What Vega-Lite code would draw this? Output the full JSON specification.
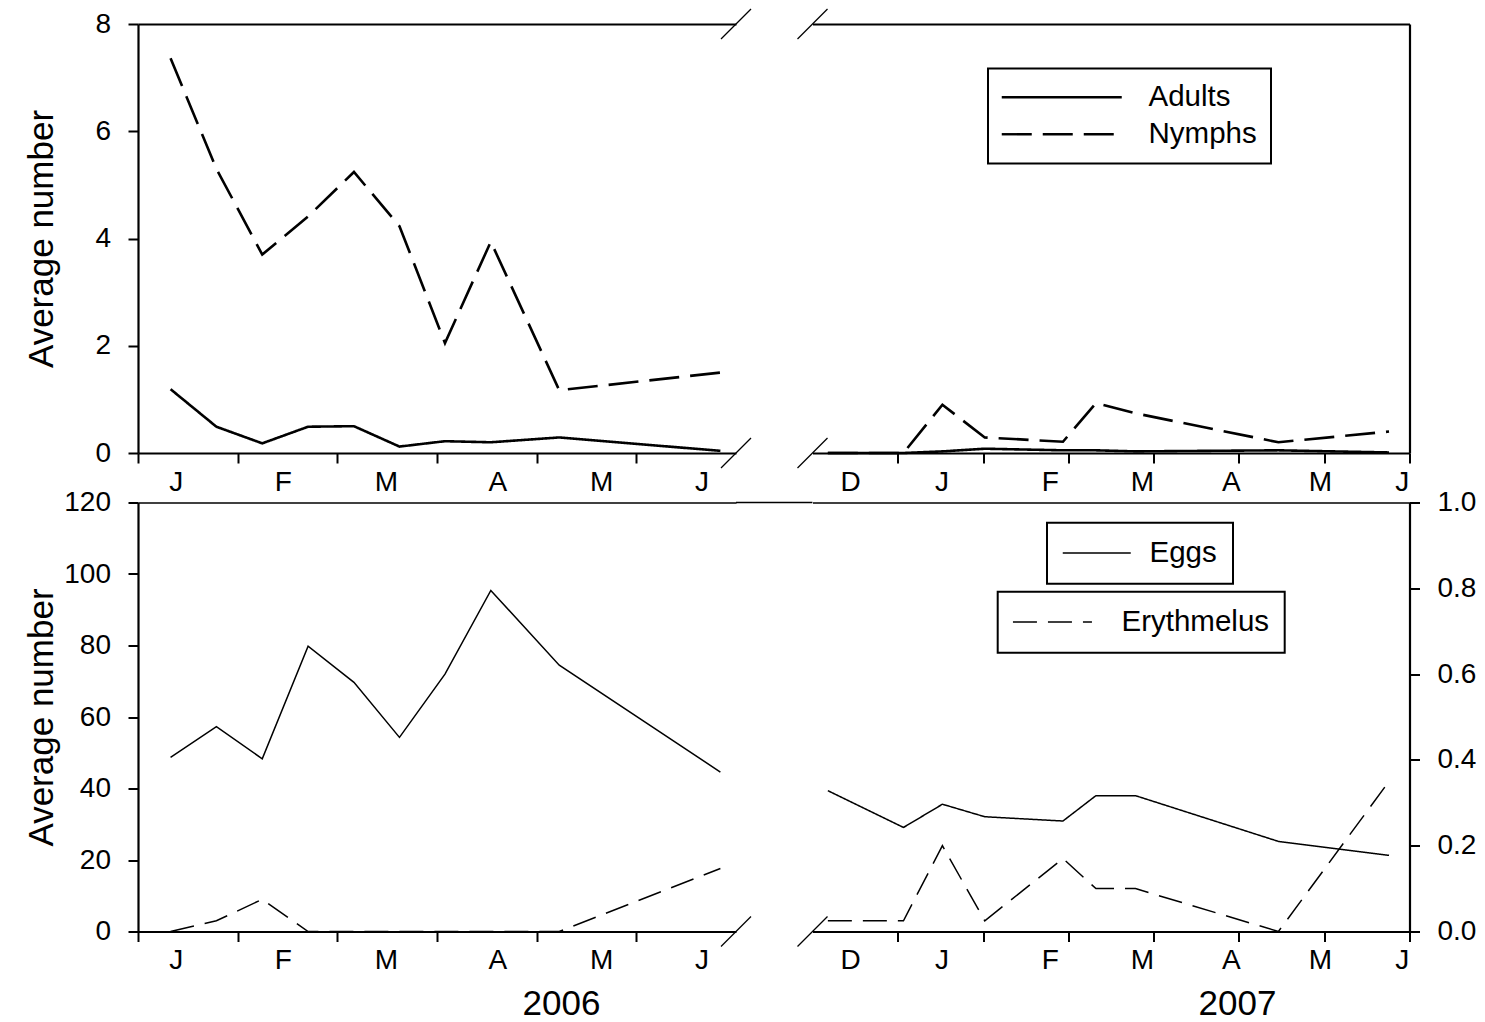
{
  "$schema": "https://vega.github.io/schema/vega-lite/v6.json",
  "padding": {"left": 24, "top": 6, "right": 5, "bottom": 0},
  "datasets": {
    "counts": [
      {"period": "2006", "stage": "Adults", "day": 9.8, "value": 1.19},
      {"period": "2006", "stage": "Adults", "day": 23.6, "value": 0.49},
      {"period": "2006", "stage": "Adults", "day": 37.4, "value": 0.18},
      {"period": "2006", "stage": "Adults", "day": 51.2, "value": 0.49},
      {"period": "2006", "stage": "Adults", "day": 65.0, "value": 0.50},
      {"period": "2006", "stage": "Adults", "day": 78.7, "value": 0.12},
      {"period": "2006", "stage": "Adults", "day": 92.4, "value": 0.22},
      {"period": "2006", "stage": "Adults", "day": 106.2, "value": 0.20},
      {"period": "2006", "stage": "Adults", "day": 126.8, "value": 0.29},
      {"period": "2006", "stage": "Adults", "day": 175.3, "value": 0.04},
      {"period": "2006", "stage": "Nymphs", "day": 9.8, "value": 7.36},
      {"period": "2006", "stage": "Nymphs", "day": 23.6, "value": 5.30},
      {"period": "2006", "stage": "Nymphs", "day": 37.4, "value": 3.70},
      {"period": "2006", "stage": "Nymphs", "day": 51.2, "value": 4.41},
      {"period": "2006", "stage": "Nymphs", "day": 65.0, "value": 5.24},
      {"period": "2006", "stage": "Nymphs", "day": 78.7, "value": 4.23},
      {"period": "2006", "stage": "Nymphs", "day": 92.4, "value": 2.05},
      {"period": "2006", "stage": "Nymphs", "day": 106.2, "value": 3.94},
      {"period": "2006", "stage": "Nymphs", "day": 126.8, "value": 1.17},
      {"period": "2006", "stage": "Nymphs", "day": 175.3, "value": 1.50},
      {"period": "2006", "stage": "Eggs", "day": 9.8, "value": 48.7},
      {"period": "2006", "stage": "Eggs", "day": 23.6, "value": 57.3},
      {"period": "2006", "stage": "Eggs", "day": 37.4, "value": 48.3},
      {"period": "2006", "stage": "Eggs", "day": 51.2, "value": 79.8},
      {"period": "2006", "stage": "Eggs", "day": 65.0, "value": 69.7},
      {"period": "2006", "stage": "Eggs", "day": 78.7, "value": 54.3},
      {"period": "2006", "stage": "Eggs", "day": 92.4, "value": 72.0},
      {"period": "2006", "stage": "Eggs", "day": 106.2, "value": 95.4},
      {"period": "2006", "stage": "Eggs", "day": 126.8, "value": 74.5},
      {"period": "2006", "stage": "Eggs", "day": 175.3, "value": 44.6},
      {"period": "2006", "stage": "Erythmelus", "day": 9.8, "value": 0},
      {"period": "2006", "stage": "Erythmelus", "day": 23.6, "value": 0.025},
      {"period": "2006", "stage": "Erythmelus", "day": 37.4, "value": 0.075},
      {"period": "2006", "stage": "Erythmelus", "day": 51.2, "value": 0},
      {"period": "2006", "stage": "Erythmelus", "day": 65.0, "value": 0},
      {"period": "2006", "stage": "Erythmelus", "day": 78.7, "value": 0},
      {"period": "2006", "stage": "Erythmelus", "day": 92.4, "value": 0},
      {"period": "2006", "stage": "Erythmelus", "day": 106.2, "value": 0},
      {"period": "2006", "stage": "Erythmelus", "day": 126.8, "value": 0},
      {"period": "2006", "stage": "Erythmelus", "day": 175.3, "value": 0.147},
      {"period": "2007", "stage": "Adults", "day": 5.4, "value": 0},
      {"period": "2007", "stage": "Adults", "day": 32.0, "value": 0},
      {"period": "2007", "stage": "Adults", "day": 45.7, "value": 0.03},
      {"period": "2007", "stage": "Adults", "day": 60.6, "value": 0.08},
      {"period": "2007", "stage": "Adults", "day": 88.1, "value": 0.05},
      {"period": "2007", "stage": "Adults", "day": 99.7, "value": 0.05},
      {"period": "2007", "stage": "Adults", "day": 113.6, "value": 0.03},
      {"period": "2007", "stage": "Adults", "day": 163.9, "value": 0.05},
      {"period": "2007", "stage": "Adults", "day": 202.8, "value": 0.01},
      {"period": "2007", "stage": "Nymphs", "day": 5.4, "value": 0},
      {"period": "2007", "stage": "Nymphs", "day": 32.0, "value": 0},
      {"period": "2007", "stage": "Nymphs", "day": 45.7, "value": 0.90},
      {"period": "2007", "stage": "Nymphs", "day": 60.6, "value": 0.29},
      {"period": "2007", "stage": "Nymphs", "day": 88.1, "value": 0.21},
      {"period": "2007", "stage": "Nymphs", "day": 99.7, "value": 0.93},
      {"period": "2007", "stage": "Nymphs", "day": 113.6, "value": 0.74},
      {"period": "2007", "stage": "Nymphs", "day": 163.9, "value": 0.20},
      {"period": "2007", "stage": "Nymphs", "day": 202.8, "value": 0.40},
      {"period": "2007", "stage": "Eggs", "day": 5.4, "value": 39.4},
      {"period": "2007", "stage": "Eggs", "day": 32.0, "value": 29.1},
      {"period": "2007", "stage": "Eggs", "day": 45.7, "value": 35.6},
      {"period": "2007", "stage": "Eggs", "day": 60.6, "value": 32.1},
      {"period": "2007", "stage": "Eggs", "day": 88.1, "value": 30.9},
      {"period": "2007", "stage": "Eggs", "day": 99.7, "value": 38.0},
      {"period": "2007", "stage": "Eggs", "day": 113.6, "value": 38.0},
      {"period": "2007", "stage": "Eggs", "day": 163.9, "value": 25.2},
      {"period": "2007", "stage": "Eggs", "day": 202.8, "value": 21.3},
      {"period": "2007", "stage": "Erythmelus", "day": 5.4, "value": 0.025},
      {"period": "2007", "stage": "Erythmelus", "day": 32.0, "value": 0.025},
      {"period": "2007", "stage": "Erythmelus", "day": 45.7, "value": 0.2},
      {"period": "2007", "stage": "Erythmelus", "day": 60.6, "value": 0.025},
      {"period": "2007", "stage": "Erythmelus", "day": 88.1, "value": 0.17},
      {"period": "2007", "stage": "Erythmelus", "day": 99.7, "value": 0.1},
      {"period": "2007", "stage": "Erythmelus", "day": 113.6, "value": 0.1},
      {"period": "2007", "stage": "Erythmelus", "day": 163.9, "value": 0},
      {"period": "2007", "stage": "Erythmelus", "day": 202.8, "value": 0.35}
    ]
  },
  "columns": 2,
  "spacing": {"row": 49.5, "column": 76.5},
  "bounds": "flush",
  "concat": [
    {
      "width": 598,
      "height": 429,
      "layer": [
        {
          "data": {"name": "counts"},
          "transform": [{"filter": "datum.period === '2006' && (datum.stage === 'Adults' || datum.stage === 'Nymphs')"}],
          "mark": {"type": "line", "color": "black", "strokeWidth": 2.6},
          "encoding": {
            "x": {"field": "day", "type": "quantitative", "scale": {"domain": [0, 180]},
                  "axis": {"orient": "bottom", "values": [0, 30, 60, 90, 120, 150], "labels": false, "title": null, "tickSize": 10}},
            "y": {"field": "value", "type": "quantitative", "scale": {"domain": [0, 8]},
                  "axis": {"orient": "left", "values": [0, 2, 4, 6, 8], "title": "Average number", "titleX": -86, "titleY": 214.5, "titleBaseline": "alphabetic"}},
            "strokeDash": {"field": "stage", "type": "nominal", "scale": {"domain": ["Adults", "Nymphs"], "range": [[1, 0], [30, 11]]}, "legend": null}
          }
        },
        {
          "data": {"values": [{}]},
          "mark": {"type": "point", "shape": "M -1 1 L 1 -1", "size": 900, "filled": false, "color": "black", "strokeWidth": 1.3, "opacity": 1},
          "encoding": {
            "x": {"datum": 180, "type": "quantitative", "scale": {"domain": [0, 180]},
                  "axis": {"orient": "top", "ticks": false, "labels": false, "domain": true, "title": null}},
            "y": {"datum": 8, "type": "quantitative", "scale": {"domain": [0, 8]}, "axis": null}
          }
        },
        {
          "data": {"values": [{}]},
          "mark": {"type": "point", "shape": "M -1 1 L 1 -1", "size": 900, "filled": false, "color": "black", "strokeWidth": 1.3, "opacity": 1},
          "encoding": {
            "x": {"datum": 180, "type": "quantitative", "scale": {"domain": [0, 180]},
                  "axis": {"orient": "bottom", "values": [11.4, 43.6, 74.6, 108.2, 139.4, 169.6],
                           "labelExpr": "datum.value < 30 ? 'J' : datum.value < 60 ? 'F' : datum.value < 90 ? 'M' : datum.value < 120 ? 'A' : datum.value < 150 ? 'M' : 'J'",
                           "ticks": false, "tickSize": 0, "domain": false, "labelPadding": 15, "title": null}},
            "y": {"datum": 0, "type": "quantitative", "scale": {"domain": [0, 8]}, "axis": null}
          }
        }
      ],
      "resolve": {"axis": {"x": "independent", "y": "independent"}}
    },
    {
      "width": 597,
      "height": 429,
      "layer": [
        {
          "data": {"name": "counts"},
          "transform": [{"filter": "datum.period === '2007' && (datum.stage === 'Adults' || datum.stage === 'Nymphs')"}],
          "mark": {"type": "line", "color": "black", "strokeWidth": 2.6},
          "encoding": {
            "x": {"field": "day", "type": "quantitative", "scale": {"domain": [0, 210]},
                  "axis": {"orient": "bottom", "values": [30, 60, 90, 120, 150, 180, 210], "labels": false, "title": null, "tickSize": 10}},
            "y": {"field": "value", "type": "quantitative", "scale": {"domain": [0, 8]}, "axis": null},
            "strokeDash": {"field": "stage", "type": "nominal", "scale": {"domain": ["Adults", "Nymphs"], "range": [[1, 0], [30, 11]]},
                           "legend": {"orient": "none", "legendX": 175.5, "legendY": 44.5, "title": null,
                                      "symbolType": "M -6 0 L 6 0", "symbolSize": 400, "symbolOffset": 45, "labelOffset": 72,
                                      "symbolStrokeWidth": 2.4, "padding": 14, "rowPadding": 6}}
          }
        },
        {
          "data": {"values": [{}]},
          "mark": {"type": "point", "shape": "M -1 1 L 1 -1", "size": 900, "filled": false, "color": "black", "strokeWidth": 1.3, "opacity": 1},
          "encoding": {
            "x": {"datum": 0, "type": "quantitative", "scale": {"domain": [0, 210]},
                  "axis": {"orient": "top", "ticks": false, "labels": false, "domain": true, "title": null}},
            "y": {"datum": 8, "type": "quantitative", "scale": {"domain": [0, 8]},
                  "axis": {"orient": "right", "ticks": false, "labels": false, "domain": true, "title": null}}
          }
        },
        {
          "data": {"values": [{}]},
          "mark": {"type": "point", "shape": "M -1 1 L 1 -1", "size": 900, "filled": false, "color": "black", "strokeWidth": 1.3, "opacity": 1},
          "encoding": {
            "x": {"datum": 0, "type": "quantitative", "scale": {"domain": [0, 210]},
                  "axis": {"orient": "bottom", "values": [13.2, 45.4, 83.5, 115.9, 147.2, 178.5, 207.3],
                           "labelExpr": "datum.value < 30 ? 'D' : datum.value < 60 ? 'J' : datum.value < 100 ? 'F' : datum.value < 130 ? 'M' : datum.value < 160 ? 'A' : datum.value < 190 ? 'M' : 'J'",
                           "ticks": false, "tickSize": 0, "domain": false, "labelPadding": 15, "title": null}},
            "y": {"datum": 0, "type": "quantitative", "scale": {"domain": [0, 8]}, "axis": null}
          }
        }
      ],
      "resolve": {"axis": {"x": "independent", "y": "independent"}}
    },
    {
      "width": 598,
      "height": 429,
      "layer": [
        {
          "data": {"name": "counts"},
          "transform": [{"filter": "datum.period === '2006' && datum.stage === 'Eggs'"}],
          "mark": {"type": "line", "color": "black", "strokeWidth": 1.5},
          "encoding": {
            "x": {"field": "day", "type": "quantitative", "scale": {"domain": [0, 180]},
                  "axis": {"orient": "bottom", "values": [0, 30, 60, 90, 120, 150], "labels": false, "title": null, "tickSize": 10}},
            "y": {"field": "value", "type": "quantitative", "scale": {"domain": [0, 120]},
                  "axis": {"orient": "left", "values": [0, 20, 40, 60, 80, 100, 120], "title": "Average number", "titleX": -86, "titleY": 214.5, "titleBaseline": "alphabetic"}}
          }
        },
        {
          "data": {"name": "counts"},
          "transform": [{"filter": "datum.period === '2006' && datum.stage === 'Erythmelus'"}],
          "mark": {"type": "line", "color": "black", "strokeWidth": 1.5, "strokeDash": [24, 11]},
          "encoding": {
            "x": {"field": "day", "type": "quantitative", "scale": {"domain": [0, 180]}, "axis": null},
            "y": {"field": "value", "type": "quantitative", "scale": {"domain": [0, 1]}, "axis": null}
          }
        },
        {
          "data": {"values": [{}]},
          "mark": {"type": "point", "shape": "M -1 1 L 1 -1", "size": 900, "filled": false, "color": "black", "strokeWidth": 1.3, "opacity": 1},
          "encoding": {
            "x": {"datum": 180, "type": "quantitative", "scale": {"domain": [0, 180]},
                  "axis": {"orient": "bottom", "values": [11.4, 43.6, 74.6, 108.2, 139.4, 169.6],
                           "labelExpr": "datum.value < 30 ? 'J' : datum.value < 60 ? 'F' : datum.value < 90 ? 'M' : datum.value < 120 ? 'A' : datum.value < 150 ? 'M' : 'J'",
                           "ticks": false, "tickSize": 0, "domain": false, "labelPadding": 15,
                           "title": "2006", "titleX": 423, "titleY": 82.5, "titleBaseline": "alphabetic", "titleAngle": 0, "titleAlign": "center"}},
            "y": {"datum": 0, "type": "quantitative", "scale": {"domain": [0, 120]}, "axis": null}
          }
        },
        {
          "data": {"values": [{}]},
          "mark": {"type": "rule", "color": "black", "strokeWidth": 1.6},
          "encoding": {
            "x": {"datum": 180, "type": "quantitative", "scale": {"domain": [0, 180]},
                  "axis": {"orient": "top", "ticks": false, "labels": false, "domain": true, "domainWidth": 1.6, "title": null}},
            "x2": {"datum": 203},
            "y": {"datum": 120, "type": "quantitative", "scale": {"domain": [0, 120]}, "axis": null}
          }
        }
      ],
      "resolve": {"scale": {"y": "independent"}, "axis": {"x": "independent", "y": "independent"}}
    },
    {
      "width": 597,
      "height": 429,
      "layer": [
        {
          "data": {"name": "counts"},
          "transform": [{"filter": "datum.period === '2007' && datum.stage === 'Eggs'"}],
          "mark": {"type": "line", "color": "black", "strokeWidth": 1.5},
          "encoding": {
            "x": {"field": "day", "type": "quantitative", "scale": {"domain": [0, 210]},
                  "axis": {"orient": "bottom", "values": [30, 60, 90, 120, 150, 180, 210], "labels": false, "title": null, "tickSize": 10}},
            "y": {"field": "value", "type": "quantitative", "scale": {"domain": [0, 120]}, "axis": null},
            "strokeDash": {"field": "stage", "type": "nominal", "scale": {"domain": ["Eggs"], "range": [[1, 0]]},
                           "legend": {"orient": "none", "legendX": 234.5, "legendY": 20.2, "title": null,
                                      "symbolType": "M -3.4 0 L 3.4 0", "symbolSize": 400, "symbolOffset": 19.5, "labelOffset": 38,
                                      "symbolStrokeWidth": 1.5, "padding": 15.5}}
          }
        },
        {
          "data": {"name": "counts"},
          "transform": [{"filter": "datum.period === '2007' && datum.stage === 'Erythmelus'"}],
          "mark": {"type": "line", "color": "black", "strokeWidth": 1.5},
          "encoding": {
            "x": {"field": "day", "type": "quantitative", "scale": {"domain": [0, 210]},
                  "axis": {"orient": "top", "ticks": false, "labels": false, "domain": true, "domainWidth": 1.6, "title": null}},
            "y": {"field": "value", "type": "quantitative", "scale": {"domain": [0, 1]},
                  "axis": {"orient": "right", "values": [0, 0.2, 0.4, 0.6, 0.8, 1], "format": ".1f", "title": null, "tickSize": 10}},
            "strokeDash": {"field": "stage", "type": "nominal", "scale": {"domain": ["Erythmelus"], "range": [[24, 11]]},
                           "legend": {"orient": "none", "legendX": 185.2, "legendY": 89.2, "title": null,
                                      "symbolType": "M -3.95 0 L 3.95 0", "symbolSize": 400, "symbolOffset": 24.5, "labelOffset": 54.3,
                                      "symbolStrokeWidth": 1.5, "padding": 15.5}}
          }
        },
        {
          "data": {"values": [{}]},
          "mark": {"type": "point", "shape": "M -1 1 L 1 -1", "size": 900, "filled": false, "color": "black", "strokeWidth": 1.3, "opacity": 1},
          "encoding": {
            "x": {"datum": 0, "type": "quantitative", "scale": {"domain": [0, 210]},
                  "axis": {"orient": "bottom", "values": [13.2, 45.4, 83.5, 115.9, 147.2, 178.5, 207.3],
                           "labelExpr": "datum.value < 30 ? 'D' : datum.value < 60 ? 'J' : datum.value < 100 ? 'F' : datum.value < 130 ? 'M' : datum.value < 160 ? 'A' : datum.value < 190 ? 'M' : 'J'",
                           "ticks": false, "tickSize": 0, "domain": false, "labelPadding": 15,
                           "title": "2007", "titleX": 424.5, "titleY": 82.5, "titleBaseline": "alphabetic", "titleAngle": 0, "titleAlign": "center"}},
            "y": {"datum": 0, "type": "quantitative", "scale": {"domain": [0, 120]}, "axis": null}
          }
        }
      ],
      "resolve": {"scale": {"y": "independent", "strokeDash": "independent"}, "axis": {"x": "independent", "y": "independent"}, "legend": {"strokeDash": "independent"}}
    }
  ],
  "resolve": {"scale": {"strokeDash": "independent"}, "legend": {"strokeDash": "independent"}},
  "config": {
    "view": {"stroke": null},
    "axis": {
      "grid": false,
      "domainColor": "black", "domainWidth": 2.2,
      "tickColor": "black", "tickWidth": 2, "tickSize": 10,
      "labelFont": "Liberation Sans", "labelFontSize": 28, "labelColor": "black", "labelPadding": 17.5,
      "labelFlush": false, "labelOverlap": false, "labelBound": false,
      "titleFont": "Liberation Sans", "titleFontSize": 35, "titleFontWeight": "normal", "titleColor": "black"
    },
    "legend": {
      "labelFont": "Liberation Sans", "labelFontSize": 29.5, "labelColor": "black", "labelLimit": 500,
      "strokeColor": "black", "strokeWidth": 2,
      "symbolFillColor": "transparent", "symbolStrokeColor": "black"
    }
  }
}
